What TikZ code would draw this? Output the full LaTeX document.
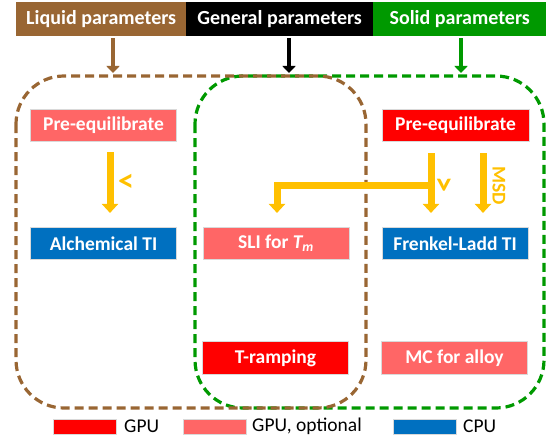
\documentclass[tikz,border=0pt]{standalone}
\usepackage{fontspec}
\setmainfont{Carlito}
\usetikzlibrary{arrows.meta}
\definecolor{cbrown}{RGB}{153,102,51}
\definecolor{cgreen}{RGB}{0,153,0}
\definecolor{cred}{RGB}{255,0,0}
\definecolor{clight}{RGB}{255,102,102}
\definecolor{cblue}{RGB}{0,112,192}
\definecolor{cgold}{RGB}{255,192,0}
\tikzset{
  bar/.style={anchor=north west, inner sep=0pt, minimum height=34pt, text=white, font=\fontsize{20}{24}\selectfont\bfseries},
  proc/.style={minimum width=146pt, minimum height=32.5pt, inner sep=0pt, text=white, draw=black!15, line width=0.6pt, font=\fontsize{19.5}{23}\selectfont\bfseries},
  group/.style={dashed, dash pattern=on 9pt off 5pt, line width=3.2pt, rounded corners=48pt},
  feed/.style={line width=4.5pt, -{Triangle[width=13pt,length=7pt]}},
  flow/.style={draw=cgold, line width=7pt, -{Triangle[width=16pt,length=9pt]}},
  flowlabel/.style={text=cgold, inner sep=0pt, font=\fontsize{19.5}{23}\selectfont\bfseries},
  ltlabel/.style={flowlabel, font=\fontsize{32}{34}\selectfont\bfseries},
  legbox/.style={anchor=west, minimum width=63pt, minimum height=15pt, inner sep=0pt, draw=black!15, line width=0.6pt},
  legtext/.style={anchor=west, inner sep=0pt, font=\fontsize{19.5}{23}\selectfont}
}
\begin{document}
\begin{tikzpicture}[x=1pt,y=-1pt]
\useasboundingbox (0,0) rectangle (548,441);
% top bars
\node[bar, fill=cbrown, minimum width=170pt] (liq) at (16,2) {Liquid parameters};
\node[bar, fill=black, minimum width=187pt] (gen) at (186,2) {General parameters};
\node[bar, fill=cgreen, minimum width=173pt] (sol) at (373,2) {Solid parameters};
% groups
\draw[group, draw=cgreen] (195,76) rectangle (544,408);
\draw[group, draw=cbrown] (16,76) rectangle (366,408);
% feed arrows
\coordinate (liqin) at (113,73);
\coordinate (genin) at (289,73);
\coordinate (solin) at (461,73);
\draw[feed, draw=cbrown] ([yshift=-2pt]liq.south -| liqin) -- (liqin);
\draw[feed, draw=black] ([yshift=-2pt]gen.south -| genin) -- (genin);
\draw[feed, draw=cgreen] ([yshift=-2pt]sol.south -| solin) -- (solin);
% process boxes
\node[proc, fill=clight] (preL) at (103.5,125.5) {Pre-equilibrate};
\node[proc, fill=cblue] (alch) at (103.5,243.5) {Alchemical TI};
\node[proc, fill=clight] (sli) at (276,243.5) {SLI for {\itshape T\textsubscript{m}}};
\node[proc, fill=cred] (tramp) at (275.5,358) {T-ramping};
\node[proc, fill=cred, minimum width=147pt] (preR) at (455.5,125.5) {Pre-equilibrate};
\node[proc, fill=cblue] (fl) at (455,243.5) {Frenkel-Ladd TI};
\node[proc, fill=clight] (mc) at (454.5,358) {MC for alloy};
% flow arrows
\coordinate (xl) at (110,0);
\coordinate (xa) at (431,0);
\coordinate (xb) at (483,0);
\coordinate (xs) at (277,0);
\coordinate (branch) at (431,185);
\draw[flow] ([yshift=-10pt]preL.south -| xl) -- ([yshift=14pt]alch.north -| xl);
\draw[flow] ([yshift=-11pt]preR.south -| xa) -- ([yshift=14pt]fl.north -| xa);
\draw[flow] ([yshift=-11pt]preR.south -| xb) -- ([yshift=14pt]fl.north -| xb);
\draw[flow, line join=miter] ([xshift=3.5pt]branch) -- (branch -| xs) -- ([yshift=14pt]sli.north -| xs);
\node[ltlabel] (lt1) at (126,183) {<};
\node[ltlabel, rotate=90] (lt2) at (446,185) {<};
\node[flowlabel, rotate=-90] (msd) at (499,186) {MSD};
% legend
\node[legbox, fill=cred] (lg1) at (53,426.5) {};
\node[legtext] (lt1t) at (124,426.5) {GPU};
\node[legbox, fill=clight] (lg2) at (183,426.5) {};
\node[legtext] (lt2t) at (252,426.5) {GPU, optional};
\node[legbox, fill=cblue] (lg3) at (393,426.5) {};
\node[legtext] (lt3t) at (463,426.5) {CPU};
\end{tikzpicture}
\end{document}
